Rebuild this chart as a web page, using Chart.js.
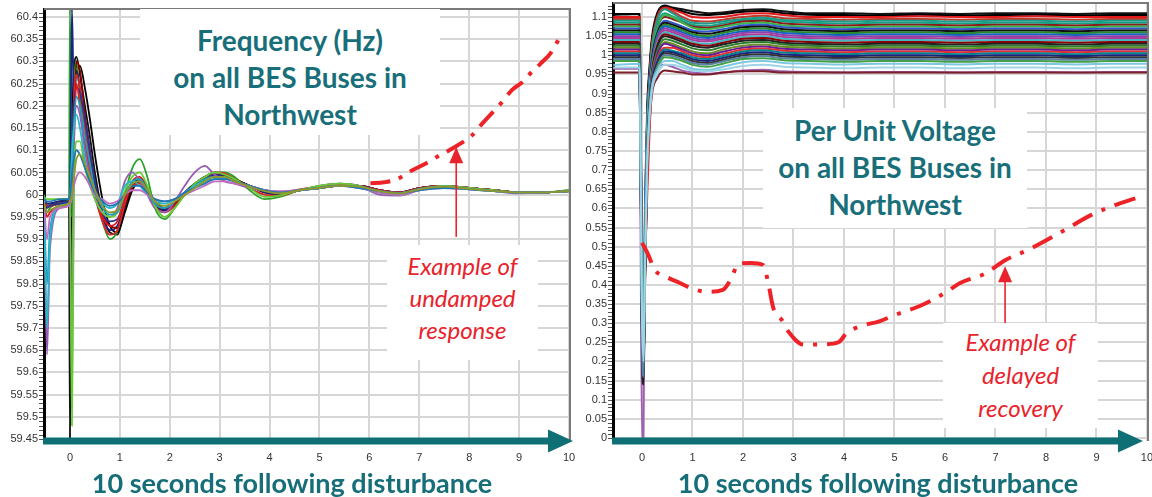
<!DOCTYPE html>
<html><head><meta charset="utf-8">
<script src="https://cdn.jsdelivr.net/npm/chart.js@4.4.1/dist/chart.umd.min.js"></script>
<style>
html,body{margin:0;padding:0;background:#fff;}
#wrap{position:relative;width:1152px;height:497px;overflow:hidden;background:#fff;}
canvas{position:absolute;top:0;}
.box{position:absolute;background:#fff;text-align:center;box-sizing:border-box;white-space:nowrap;}
.title{font-family:Lato,'Open Sans',sans-serif;font-weight:700;color:#186f7a;font-size:28px;line-height:37px;}
.note{font-family:Lato,'Open Sans',sans-serif;font-style:italic;color:#e8232b;font-size:24px;}
.cap{position:absolute;font-family:Lato,'Open Sans',sans-serif;font-weight:700;color:#166e78;font-size:27px;line-height:30px;text-align:center;white-space:nowrap;}
</style></head>
<body>
<div id="wrap">
  <canvas id="c1" width="576" height="497" style="left:0"></canvas>
  <canvas id="c2" width="576" height="497" style="left:576px"></canvas>
  <div class="box title" style="left:140px;top:9px;width:300px;height:126px;padding-top:12.5px;">Frequency (Hz)<br>on all BES Buses in<br>Northwest</div>
  <div class="box note" style="left:387px;top:245px;width:151px;height:115px;padding-top:5px;line-height:32px;">Example of<br>undamped<br>response</div>
  <div class="box title" style="left:763px;top:108px;width:264px;height:120px;padding-top:3.5px;">Per Unit Voltage<br>on all BES Buses in<br>Northwest</div>
  <div class="box note" style="left:943px;top:323px;width:155px;height:105px;padding-top:1.5px;line-height:33px;">Example of<br>delayed<br>recovery</div>
  <div class="cap" style="left:0;top:468px;width:584px;">10 seconds following disturbance</div>
  <div class="cap" style="left:578px;top:468px;width:600px;">10 seconds following disturbance</div>
</div>
<script>
// ---------- shared ticks ----------
const TIME_TICKS = [0, 1, 2, 3, 4, 5, 6, 7, 8, 9, 10];
const FREQ_Y_TICKS = [59.45, 59.5, 59.55, 59.6, 59.65, 59.7, 59.75, 59.8, 59.85, 59.9, 59.95, 60, 60.05, 60.1, 60.15, 60.2, 60.25, 60.3, 60.35, 60.4];
const VOLT_Y_TICKS = [0, 0.05, 0.1, 0.15, 0.2, 0.25, 0.3, 0.35, 0.4, 0.45, 0.5, 0.55, 0.6, 0.65, 0.7, 0.75, 0.8, 0.85, 0.9, 0.95, 1, 1.05, 1.1];

// ---------- frequency (Hz) ----------
const FREQ_T = [-0.52, -0.46, -0.4, -0.2, -0.02, 0.0, 0.04, 0.08, 0.13, 0.2, 0.3, 0.4, 0.5, 0.65, 0.8, 0.95, 1.1, 1.25, 1.4, 1.55, 1.7, 1.9, 2.1, 2.3, 2.5, 2.7, 2.9, 3.1, 3.3, 3.6, 3.9, 4.2, 4.6, 5.0, 5.4, 5.8, 6.2, 6.6, 7.0, 7.5, 8.0, 8.5, 9.0, 9.5, 10];
const FREQ_BUS_A = [59.99, 59.975, 59.975, 59.98, 59.985, 59.45, 60.1, 60.28, 60.31, 60.27, 60.2, 60.13, 60.05, 59.96, 59.915, 59.91, 59.97, 60.02, 60.035, 60.01, 59.98, 59.965, 59.98, 60.005, 60.025, 60.04, 60.045, 60.045, 60.035, 60.02, 60.005, 60.0, 60.01, 60.015, 60.02, 60.02, 60.01, 60.005, 60.015, 60.02, 60.015, 60.01, 60.005, 60.005, 60.008];
const FREQ_BUS_B = [60.0, 59.96, 59.97, 59.985, 59.99, 60.42, 59.95, 60.22, 60.3, 60.22, 60.12, 60.06, 60.0, 59.94, 59.9, 59.92, 60.0, 60.06, 60.08, 60.04, 59.97, 59.945, 59.97, 60.0, 60.02, 60.035, 60.05, 60.05, 60.04, 60.01, 59.99, 59.995, 60.01, 60.02, 60.025, 60.02, 60.005, 60.0, 60.015, 60.02, 60.015, 60.01, 60.005, 60.005, 60.01];
const FREQ_BUS_C = [59.99, 59.64, 59.88, 59.97, 59.975, 59.98, 59.55, 60.1, 60.2, 60.18, 60.1, 60.04, 59.99, 59.96, 59.95, 59.97, 60.03, 60.05, 60.03, 60.0, 59.97, 59.96, 59.985, 60.02, 60.05, 60.065, 60.045, 60.03, 60.025, 60.015, 60.01, 60.005, 60.01, 60.02, 60.025, 60.02, 60.0, 59.998, 60.01, 60.02, 60.015, 60.008, 60.003, 60.005, 60.008];
const FREQ_BUS_D = [59.995, 59.7, 59.9, 59.975, 59.98, 59.99, 60.1, 60.15, 60.18, 60.15, 60.08, 60.03, 60.0, 59.98, 59.97, 59.98, 60.02, 60.03, 60.02, 60.0, 59.985, 59.98, 59.99, 60.005, 60.02, 60.03, 60.035, 60.035, 60.03, 60.02, 60.01, 60.005, 60.01, 60.015, 60.02, 60.015, 60.005, 60.003, 60.012, 60.018, 60.012, 60.008, 60.005, 60.005, 60.008];
const FREQ_BUS_E = [59.985, 59.95, 59.96, 59.975, 59.98, 59.99, 60.0, 60.12, 60.25, 60.2, 60.12, 60.05, 60.0, 59.95, 59.93, 59.94, 59.99, 60.02, 60.025, 60.005, 59.98, 59.97, 59.985, 60.005, 60.02, 60.035, 60.04, 60.04, 60.03, 60.02, 60.01, 60.005, 60.012, 60.018, 60.022, 60.02, 60.01, 60.005, 60.015, 60.02, 60.015, 60.01, 60.005, 60.005, 60.008];
const FREQ_BUS_F = [59.99, 59.98, 59.98, 59.985, 59.99, 60.0, 60.42, 60.2, 60.28, 60.24, 60.16, 60.08, 60.02, 59.95, 59.92, 59.93, 59.98, 60.025, 60.03, 60.005, 59.975, 59.965, 59.98, 60.005, 60.02, 60.04, 60.045, 60.04, 60.03, 60.02, 60.005, 60.0, 60.01, 60.015, 60.02, 60.02, 60.01, 60.005, 60.015, 60.02, 60.015, 60.01, 60.005, 60.005, 60.008];
const FREQ_BUS_G = [59.98, 59.9, 59.95, 59.97, 59.975, 59.98, 59.99, 60.02, 60.04, 60.05, 60.04, 60.02, 60.0, 59.99, 59.98, 59.985, 60.0, 60.01, 60.01, 60.0, 59.99, 59.985, 59.99, 60.0, 60.01, 60.02, 60.03, 60.03, 60.025, 60.02, 60.01, 60.008, 60.01, 60.015, 60.02, 60.015, 60.005, 60.0, 60.01, 60.015, 60.012, 60.008, 60.005, 60.005, 60.008];
const FREQ_BUS_H = [59.995, 59.99, 59.99, 59.99, 59.99, 59.99, 59.48, 60.0, 60.12, 60.12, 60.06, 60.02, 59.99, 59.96, 59.95, 59.96, 60.01, 60.04, 60.05, 60.02, 59.975, 59.95, 59.97, 60.0, 60.025, 60.04, 60.05, 60.045, 60.035, 60.015, 59.995, 59.998, 60.01, 60.02, 60.025, 60.02, 60.005, 60.0, 60.012, 60.02, 60.015, 60.01, 60.005, 60.005, 60.01];
const FREQ_BUS_I = [59.985, 59.975, 59.975, 59.98, 59.98, 59.985, 60.02, 60.15, 60.3, 60.28, 60.18, 60.1, 60.03, 59.96, 59.93, 59.925, 59.975, 60.02, 60.03, 60.01, 59.98, 59.97, 59.98, 60.0, 60.02, 60.035, 60.045, 60.045, 60.035, 60.02, 60.01, 60.005, 60.01, 60.015, 60.02, 60.02, 60.01, 60.005, 60.015, 60.02, 60.015, 60.01, 60.005, 60.005, 60.008];
const FREQ_BUS_J = [59.99, 59.985, 59.985, 59.99, 59.99, 59.995, 60.05, 60.08, 60.1, 60.09, 60.06, 60.03, 60.005, 59.985, 59.975, 59.98, 60.0, 60.02, 60.02, 60.005, 59.99, 59.985, 59.99, 60.005, 60.015, 60.025, 60.035, 60.035, 60.03, 60.02, 60.01, 60.005, 60.01, 60.015, 60.02, 60.015, 60.008, 60.003, 60.01, 60.015, 60.012, 60.008, 60.005, 60.005, 60.008];
const FREQ_BUS_K = [59.99, 59.98, 59.98, 59.985, 59.99, 59.995, 60.15, 60.25, 60.29, 60.29, 60.24, 60.17, 60.09, 59.99, 59.93, 59.915, 59.96, 60.01, 60.03, 60.015, 59.985, 59.97, 59.98, 60.0, 60.02, 60.038, 60.045, 60.042, 60.035, 60.02, 60.008, 60.002, 60.01, 60.015, 60.02, 60.02, 60.01, 60.005, 60.015, 60.02, 60.015, 60.01, 60.005, 60.005, 60.008];
const FREQ_BUS_L = [59.985, 59.97, 59.975, 59.98, 59.985, 59.99, 60.08, 60.2, 60.24, 60.23, 60.17, 60.1, 60.03, 59.96, 59.94, 59.945, 59.99, 60.03, 60.035, 60.01, 59.98, 59.97, 59.985, 60.005, 60.02, 60.035, 60.045, 60.04, 60.03, 60.02, 60.008, 60.003, 60.01, 60.015, 60.02, 60.02, 60.01, 60.005, 60.015, 60.02, 60.015, 60.01, 60.005, 60.005, 60.008];
const FREQ_BUS_M = [59.99, 59.8, 59.92, 59.975, 59.98, 59.985, 60.05, 60.16, 60.22, 60.2, 60.13, 60.07, 60.01, 59.97, 59.955, 59.96, 60.0, 60.03, 60.035, 60.01, 59.98, 59.97, 59.985, 60.005, 60.02, 60.035, 60.04, 60.04, 60.03, 60.02, 60.01, 60.005, 60.01, 60.015, 60.02, 60.018, 60.008, 60.004, 60.013, 60.018, 60.013, 60.008, 60.005, 60.005, 60.008];
const FREQ_BUS_N = [59.98, 59.96, 59.965, 59.975, 59.98, 59.985, 60.0, 60.04, 60.08, 60.09, 60.07, 60.04, 60.01, 59.975, 59.96, 59.965, 60.0, 60.025, 60.03, 60.01, 59.985, 59.975, 59.985, 60.0, 60.015, 60.03, 60.04, 60.04, 60.03, 60.018, 60.008, 60.003, 60.01, 60.015, 60.02, 60.018, 60.008, 60.003, 60.012, 60.018, 60.013, 60.008, 60.005, 60.005, 60.008];
const FREQ_BUS_O = [59.99, 59.975, 59.975, 59.98, 59.985, 59.99, 60.06, 60.22, 60.27, 60.24, 60.15, 60.07, 60.0, 59.94, 59.91, 59.92, 59.98, 60.03, 60.04, 60.015, 59.975, 59.96, 59.975, 60.0, 60.02, 60.04, 60.05, 60.048, 60.035, 60.015, 60.0, 59.998, 60.01, 60.018, 60.022, 60.02, 60.006, 60.0, 60.014, 60.02, 60.015, 60.01, 60.005, 60.005, 60.009];
const FREQ_RED_T = [6.02, 6.3, 6.54, 6.86, 7.14, 7.4, 7.6, 7.84, 8.06, 8.26, 8.46, 8.64, 8.86, 9.05, 9.2, 9.44, 9.64, 9.86];
const FREQ_RED_V = [60.026, 60.028, 60.034, 60.055, 60.071, 60.088, 60.1, 60.116, 60.134, 60.16, 60.184, 60.206, 60.236, 60.252, 60.27, 60.296, 60.32, 60.364];
const FREQ_SERIES = [FREQ_BUS_N, FREQ_BUS_J, FREQ_BUS_G, FREQ_BUS_D, FREQ_BUS_M, FREQ_BUS_H, FREQ_BUS_C, FREQ_BUS_E, FREQ_BUS_L, FREQ_BUS_O, FREQ_BUS_I, FREQ_BUS_F, FREQ_BUS_B, FREQ_BUS_K, FREQ_BUS_A];
const FREQ_COLORS = ['#8e9a2a', '#1f77b4', '#c06cc0', '#29b6c8', '#17a2b8', '#66cc33', '#9b59b6', '#e31a1c', '#283593', '#d62728', '#8b0000', '#1a237e', '#2ca02c', '#000000', '#111111'];

// ---------- per unit voltage ----------
const VOLT_T = [-0.57, -0.05, 0.0, 0.03, 0.06, 0.1, 0.15, 0.2, 0.3, 0.45, 0.6, 0.8, 1.0, 1.3, 1.6, 2.0, 2.4, 2.8, 3.3, 4.0, 4.7, 5.5, 6.3, 7.0, 7.8, 8.6, 9.3, 10];
const VOLT_BUS_1 = [1.105, 1.108, 0.45, 0.3, 0.55, 0.85, 0.97, 1.05, 1.11, 1.13, 1.125, 1.12, 1.115, 1.11, 1.112, 1.118, 1.12, 1.115, 1.11, 1.11, 1.108, 1.11, 1.108, 1.11, 1.11, 1.108, 1.11, 1.11];
const VOLT_BUS_2 = [1.1, 1.1, 0.4, 0.25, 0.5, 0.8, 0.95, 1.03, 1.1, 1.125, 1.12, 1.11, 1.1, 1.098, 1.1, 1.108, 1.11, 1.105, 1.1, 1.1, 1.1, 1.102, 1.1, 1.1, 1.102, 1.1, 1.1, 1.1];
const VOLT_BUS_3 = [1.09, 1.09, 0.35, 0.2, 0.45, 0.78, 0.93, 1.02, 1.09, 1.12, 1.11, 1.095, 1.085, 1.083, 1.088, 1.095, 1.098, 1.092, 1.09, 1.088, 1.09, 1.09, 1.088, 1.09, 1.09, 1.088, 1.09, 1.09];
const VOLT_BUS_4 = [1.08, 1.08, 0.3, 0.18, 0.4, 0.7, 0.9, 1.0, 1.07, 1.1, 1.095, 1.085, 1.075, 1.072, 1.078, 1.088, 1.09, 1.083, 1.08, 1.078, 1.08, 1.08, 1.078, 1.08, 1.08, 1.078, 1.08, 1.08];
const VOLT_BUS_5 = [1.07, 1.07, 0.5, 0.35, 0.6, 0.82, 0.94, 1.0, 1.06, 1.09, 1.085, 1.075, 1.065, 1.062, 1.068, 1.078, 1.08, 1.073, 1.07, 1.068, 1.07, 1.07, 1.068, 1.07, 1.07, 1.068, 1.07, 1.07];
const VOLT_BUS_6 = [1.06, 1.06, 0.28, 0.15, 0.42, 0.72, 0.9, 0.98, 1.05, 1.08, 1.075, 1.065, 1.055, 1.05, 1.058, 1.068, 1.07, 1.063, 1.06, 1.058, 1.06, 1.06, 1.058, 1.06, 1.06, 1.058, 1.06, 1.06];
const VOLT_BUS_7 = [1.05, 1.05, 0.33, 0.2, 0.48, 0.76, 0.9, 0.97, 1.04, 1.07, 1.065, 1.055, 1.045, 1.04, 1.048, 1.058, 1.06, 1.053, 1.05, 1.048, 1.05, 1.05, 1.048, 1.05, 1.05, 1.048, 1.05, 1.05];
const VOLT_BUS_8 = [1.04, 1.04, 0.45, 0.3, 0.55, 0.8, 0.92, 0.97, 1.03, 1.06, 1.055, 1.045, 1.035, 1.03, 1.038, 1.048, 1.05, 1.043, 1.04, 1.038, 1.04, 1.04, 1.038, 1.04, 1.04, 1.038, 1.04, 1.04];
const VOLT_BUS_9 = [1.03, 1.03, 0.2, 0.14, 0.4, 0.68, 0.86, 0.95, 1.02, 1.05, 1.045, 1.035, 1.025, 1.02, 1.028, 1.038, 1.04, 1.033, 1.03, 1.028, 1.03, 1.03, 1.028, 1.03, 1.03, 1.028, 1.03, 1.03];
const VOLT_BUS_10 = [1.02, 1.02, 0.38, 0.25, 0.5, 0.75, 0.88, 0.95, 1.0, 1.035, 1.03, 1.02, 1.01, 1.005, 1.015, 1.025, 1.028, 1.022, 1.02, 1.018, 1.02, 1.02, 1.018, 1.02, 1.02, 1.018, 1.02, 1.02];
const VOLT_BUS_11 = [1.01, 1.01, 0.42, 0.28, 0.45, 0.62, 0.8, 0.92, 0.99, 1.02, 1.02, 1.01, 1.0, 0.995, 1.003, 1.015, 1.018, 1.012, 1.01, 1.008, 1.01, 1.01, 1.008, 1.01, 1.01, 1.008, 1.01, 1.01];
const VOLT_BUS_12 = [1.0, 1.0, 0.3, 0.2, 0.45, 0.7, 0.86, 0.93, 0.98, 1.01, 1.008, 1.0, 0.99, 0.985, 0.993, 1.005, 1.008, 1.002, 1.0, 0.998, 1.0, 1.0, 0.998, 1.0, 1.0, 0.998, 1.0, 1.0];
const VOLT_BUS_13 = [0.975, 0.978, 0.35, 0.22, 0.48, 0.72, 0.85, 0.92, 0.96, 0.985, 0.985, 0.975, 0.965, 0.962, 0.97, 0.982, 0.985, 0.98, 0.978, 0.976, 0.978, 0.978, 0.976, 0.978, 0.978, 0.976, 0.978, 0.978];
const VOLT_BUS_14 = [0.955, 0.955, 0.3, 0.2, 0.42, 0.66, 0.82, 0.9, 0.94, 0.96, 0.958, 0.955, 0.95, 0.95, 0.955, 0.958, 0.958, 0.955, 0.955, 0.955, 0.955, 0.955, 0.955, 0.955, 0.955, 0.955, 0.955, 0.955];
const VOLT_BUS_15 = [0.965, 0.965, 0.0, 0.0, 0.6, 0.78, 0.88, 0.94, 0.97, 0.975, 0.97, 0.96, 0.955, 0.952, 0.955, 0.96, 0.962, 0.958, 0.956, 0.955, 0.956, 0.956, 0.955, 0.956, 0.956, 0.955, 0.956, 0.956];
const VOLT_BUS_16 = [1.045, 1.045, 0.38, 0.24, 0.5, 0.77, 0.9, 0.97, 1.035, 1.065, 1.06, 1.05, 1.04, 1.036, 1.043, 1.053, 1.055, 1.048, 1.045, 1.043, 1.045, 1.045, 1.043, 1.045, 1.045, 1.043, 1.045, 1.045];
const VOLT_BUS_17 = [1.075, 1.075, 0.42, 0.3, 0.52, 0.8, 0.93, 1.01, 1.07, 1.105, 1.1, 1.085, 1.072, 1.068, 1.074, 1.083, 1.085, 1.078, 1.075, 1.073, 1.075, 1.075, 1.073, 1.075, 1.075, 1.073, 1.075, 1.075];
const VOLT_BUS_18 = [0.99, 0.99, 0.25, 0.16, 0.44, 0.7, 0.85, 0.92, 0.97, 1.0, 0.998, 0.99, 0.98, 0.976, 0.984, 0.995, 0.998, 0.992, 0.99, 0.988, 0.99, 0.99, 0.988, 0.99, 0.99, 0.988, 0.99, 0.99];
const VOLT_BUS_19 = [1.108, 1.108, 0.38, 0.22, 0.5, 0.82, 0.96, 1.04, 1.1, 1.128, 1.122, 1.115, 1.108, 1.105, 1.108, 1.114, 1.116, 1.11, 1.106, 1.105, 1.104, 1.106, 1.104, 1.105, 1.106, 1.104, 1.105, 1.105];
const VOLT_BUS_20 = [1.095, 1.095, 0.36, 0.21, 0.46, 0.79, 0.94, 1.03, 1.095, 1.122, 1.115, 1.1, 1.09, 1.088, 1.093, 1.1, 1.103, 1.097, 1.095, 1.093, 1.095, 1.095, 1.093, 1.095, 1.095, 1.093, 1.095, 1.095];
const VOLT_BUS_21 = [1.085, 1.085, 0.32, 0.19, 0.43, 0.74, 0.91, 1.01, 1.08, 1.11, 1.102, 1.09, 1.08, 1.077, 1.083, 1.092, 1.094, 1.088, 1.085, 1.083, 1.085, 1.085, 1.083, 1.085, 1.085, 1.083, 1.085, 1.085];
const VOLT_BUS_22 = [1.065, 1.065, 0.3, 0.17, 0.44, 0.74, 0.91, 0.99, 1.055, 1.085, 1.08, 1.07, 1.06, 1.056, 1.063, 1.073, 1.075, 1.068, 1.065, 1.063, 1.065, 1.065, 1.063, 1.065, 1.065, 1.063, 1.065, 1.065];
const VOLT_BUS_23 = [1.055, 1.055, 0.4, 0.26, 0.5, 0.78, 0.91, 0.98, 1.045, 1.075, 1.07, 1.06, 1.05, 1.045, 1.053, 1.063, 1.065, 1.058, 1.055, 1.053, 1.055, 1.055, 1.053, 1.055, 1.055, 1.053, 1.055, 1.055];
const VOLT_BUS_24 = [1.035, 1.035, 0.34, 0.2, 0.46, 0.74, 0.88, 0.96, 1.025, 1.055, 1.05, 1.04, 1.03, 1.025, 1.033, 1.043, 1.045, 1.038, 1.035, 1.033, 1.035, 1.035, 1.033, 1.035, 1.035, 1.033, 1.035, 1.035];
const VOLT_BUS_25 = [1.025, 1.025, 0.3, 0.18, 0.44, 0.72, 0.87, 0.95, 1.01, 1.042, 1.038, 1.028, 1.018, 1.013, 1.022, 1.032, 1.035, 1.028, 1.025, 1.023, 1.025, 1.025, 1.023, 1.025, 1.025, 1.023, 1.025, 1.025];
const VOLT_BUS_26 = [1.015, 1.015, 0.36, 0.23, 0.47, 0.73, 0.87, 0.94, 1.0, 1.03, 1.025, 1.015, 1.005, 1.0, 1.009, 1.02, 1.023, 1.017, 1.015, 1.013, 1.015, 1.015, 1.013, 1.015, 1.015, 1.013, 1.015, 1.015];
const VOLT_BUS_27 = [1.005, 1.005, 0.33, 0.21, 0.46, 0.72, 0.86, 0.93, 0.985, 1.015, 1.012, 1.005, 0.995, 0.99, 0.998, 1.01, 1.013, 1.007, 1.005, 1.003, 1.005, 1.005, 1.003, 1.005, 1.005, 1.003, 1.005, 1.005];
const VOLT_BUS_28 = [0.995, 0.995, 0.27, 0.17, 0.43, 0.7, 0.85, 0.92, 0.975, 1.005, 1.003, 0.995, 0.985, 0.98, 0.988, 1.0, 1.003, 0.997, 0.995, 0.993, 0.995, 0.995, 0.993, 0.995, 0.995, 0.993, 0.995, 0.995];
const VOLT_BUS_29 = [0.985, 0.985, 0.37, 0.24, 0.49, 0.73, 0.86, 0.92, 0.965, 0.995, 0.993, 0.985, 0.975, 0.97, 0.978, 0.99, 0.992, 0.987, 0.985, 0.983, 0.985, 0.985, 0.983, 0.985, 0.985, 0.983, 0.985, 0.985];
const VOLT_BUS_30 = [0.968, 0.968, 0.32, 0.2, 0.45, 0.7, 0.84, 0.91, 0.95, 0.975, 0.975, 0.968, 0.96, 0.958, 0.963, 0.972, 0.975, 0.97, 0.968, 0.966, 0.968, 0.968, 0.966, 0.968, 0.968, 0.966, 0.968, 0.968];
const VOLT_RED_T = [0.0, 0.12, 0.25, 0.5, 0.75, 1.0, 1.3, 1.6, 1.78, 1.9, 2.15, 2.4, 2.5, 2.6, 2.77, 2.9, 3.2, 3.6, 3.9, 4.05, 4.35, 4.7, 5.0, 5.5, 6.0, 6.3, 6.8, 7.2, 7.7, 8.3, 8.9, 9.4, 9.9];
const VOLT_RED_V = [0.51, 0.48, 0.44, 0.42, 0.405, 0.39, 0.382, 0.387, 0.42, 0.455, 0.457, 0.452, 0.405, 0.34, 0.308, 0.278, 0.244, 0.245, 0.251, 0.274, 0.293, 0.305, 0.321, 0.345, 0.379, 0.405, 0.43, 0.465, 0.495, 0.538, 0.583, 0.61, 0.632];
const VOLT_SERIES = [VOLT_BUS_30, VOLT_BUS_13, VOLT_BUS_29, VOLT_BUS_18, VOLT_BUS_28, VOLT_BUS_12, VOLT_BUS_27, VOLT_BUS_11, VOLT_BUS_26, VOLT_BUS_10, VOLT_BUS_25, VOLT_BUS_9, VOLT_BUS_24, VOLT_BUS_8, VOLT_BUS_16, VOLT_BUS_7, VOLT_BUS_23, VOLT_BUS_6, VOLT_BUS_22, VOLT_BUS_5, VOLT_BUS_17, VOLT_BUS_4, VOLT_BUS_21, VOLT_BUS_3, VOLT_BUS_20, VOLT_BUS_2, VOLT_BUS_19, VOLT_BUS_1, VOLT_BUS_14, VOLT_BUS_15];
const VOLT_COLORS = ['#9fd3e6', '#7ec8e3', '#43a047', '#5b7fa6', '#333333', '#1a237e', '#00838f', '#e03030', '#6a1b9a', '#6b8e23', '#2e7d32', '#222222', '#8b0000', '#45b5c5', '#b03a9a', '#8e44ad', '#1565c0', '#2a8a2a', '#111111', '#3355cc', '#3cb44b', '#8b1a1a', '#16a085', '#1f9a8a', '#c0392b', '#e31a1c', '#000000', '#111111', '#7b1f2a', '#a060b0'];

// ---------- helpers ----------
function series(times, vals, color, width) {
  return { data: times.map((t, i) => ({ x: t, y: vals[i] })), borderColor: color, borderWidth: width,
    pointRadius: 0, fill: false, cubicInterpolationMode: 'monotone' };
}
function redSeries(times, vals, dash) {
  const s = series(times, vals, '#ee2328', 4);
  s.borderDash = dash; s.borderCapStyle = 'butt';
  return s;
}

const deco = {
  id: 'deco',
  afterDraw(chart, args, o) {
    const { ctx, chartArea: a, scales: { x, y } } = chart;
    ctx.save();
    ctx.strokeStyle = '#7a7a7a'; ctx.lineWidth = 2;
    ctx.beginPath(); ctx.moveTo(a.left, a.top); ctx.lineTo(a.right, a.top); ctx.lineTo(a.right, a.bottom); ctx.stroke();
    ctx.strokeStyle = '#555'; ctx.lineWidth = 1; ctx.beginPath();
    for (let k = 0; k <= o.minorCount; k++) {
      const py = Math.round(y.getPixelForValue(o.minorStart + k * o.minorStep)) + 0.5;
      if (py < a.top || py > a.bottom) continue;
      ctx.moveTo(a.left - 5, py); ctx.lineTo(a.left - 1, py);
    }
    ctx.stroke();
    const yb = a.bottom, tip = a.right + o.tipOffset;
    ctx.fillStyle = '#0e7074';
    ctx.fillRect(a.left - 1, yb - 3.5, tip - 20 - a.left, 7);
    ctx.beginPath(); ctx.moveTo(tip, yb); ctx.lineTo(tip - 25, yb - 11.5); ctx.lineTo(tip - 25, yb + 11.5); ctx.closePath(); ctx.fill();
    const ax = x.getPixelForValue(o.arrowX), y0 = y.getPixelForValue(o.arrowFrom), y1 = y.getPixelForValue(o.arrowTo);
    ctx.strokeStyle = '#e8232b'; ctx.fillStyle = '#e8232b'; ctx.lineWidth = 1.6;
    ctx.beginPath(); ctx.moveTo(ax, y0); ctx.lineTo(ax, y1 + 12); ctx.stroke();
    ctx.beginPath(); ctx.moveTo(ax, y1); ctx.lineTo(ax - 7, y1 + 16); ctx.lineTo(ax + 7, y1 + 16); ctx.closePath(); ctx.fill();
    ctx.restore();
  }
};

function build(id, datasets, xr, yr, yTicks, yWidth, pad, decoOpts) {
  return new Chart(document.getElementById(id), {
    type: 'line',
    data: { datasets },
    plugins: [deco],
    options: {
      responsive: false, animation: false, devicePixelRatio: 1,
      layout: { padding: pad },
      plugins: { legend: { display: false }, tooltip: { enabled: false }, deco: decoOpts },
      scales: {
        x: {
          type: 'linear', min: xr[0], max: xr[1],
          afterBuildTicks: s => { s.ticks = TIME_TICKS.map(v => ({ value: v })); },
          afterFit: s => { s.height = 56; s.paddingLeft = 0; s.paddingRight = 0; },
          grid: { color: '#d6d6d6', lineWidth: 2, drawTicks: false },
          border: { display: false },
          ticks: { padding: 10, color: '#333', font: { family: 'Liberation Sans', size: 11 }, maxRotation: 0, autoSkip: false, callback: v => String(v) }
        },
        y: {
          type: 'linear', min: yr[0], max: yr[1],
          afterBuildTicks: s => { s.ticks = yTicks.map(v => ({ value: v })); },
          afterFit: s => { s.width = yWidth; s.paddingTop = 0; s.paddingBottom = 0; },
          grid: { color: '#d6d6d6', lineWidth: 2, drawTicks: false },
          border: { display: true, color: '#000', width: 3 },
          ticks: { padding: 6, color: '#333', font: { family: 'Liberation Sans', size: 11 }, autoSkip: false, callback: v => String(v) }
        }
      }
    }
  });
}

const freqSets = [redSeries(FREQ_RED_T, FREQ_RED_V, [20, 9, 4, 9])]
  .concat(FREQ_SERIES.map((s, i) => series(FREQ_T, s, FREQ_COLORS[i], 1.8)));
build('c1', freqSets, [-0.52, 10.02], [59.4455, 60.418], FREQ_Y_TICKS, 44,
  { left: 0, right: 6, top: 9, bottom: 0 },
  { minorStart: 59.45, minorStep: 0.01, minorCount: 97, tipOffset: 3, arrowX: 7.74, arrowFrom: 59.905, arrowTo: 60.107 });

const voltSets = [redSeries(VOLT_RED_T, VOLT_RED_V, [22, 10, 4, 10])]
  .concat(VOLT_SERIES.map((s, i) => series(VOLT_T, s, VOLT_COLORS[i], 2)));
build('c2', voltSets, [-0.574, 10.02], [-0.0078, 1.1366], VOLT_Y_TICKS, 37,
  { left: 0, right: 4, top: 3, bottom: 0 },
  { minorStart: 0, minorStep: 0.01, minorCount: 113, tipOffset: -5, arrowX: 7.19, arrowFrom: 0.29, arrowTo: 0.449 });
</script>
</body></html>
